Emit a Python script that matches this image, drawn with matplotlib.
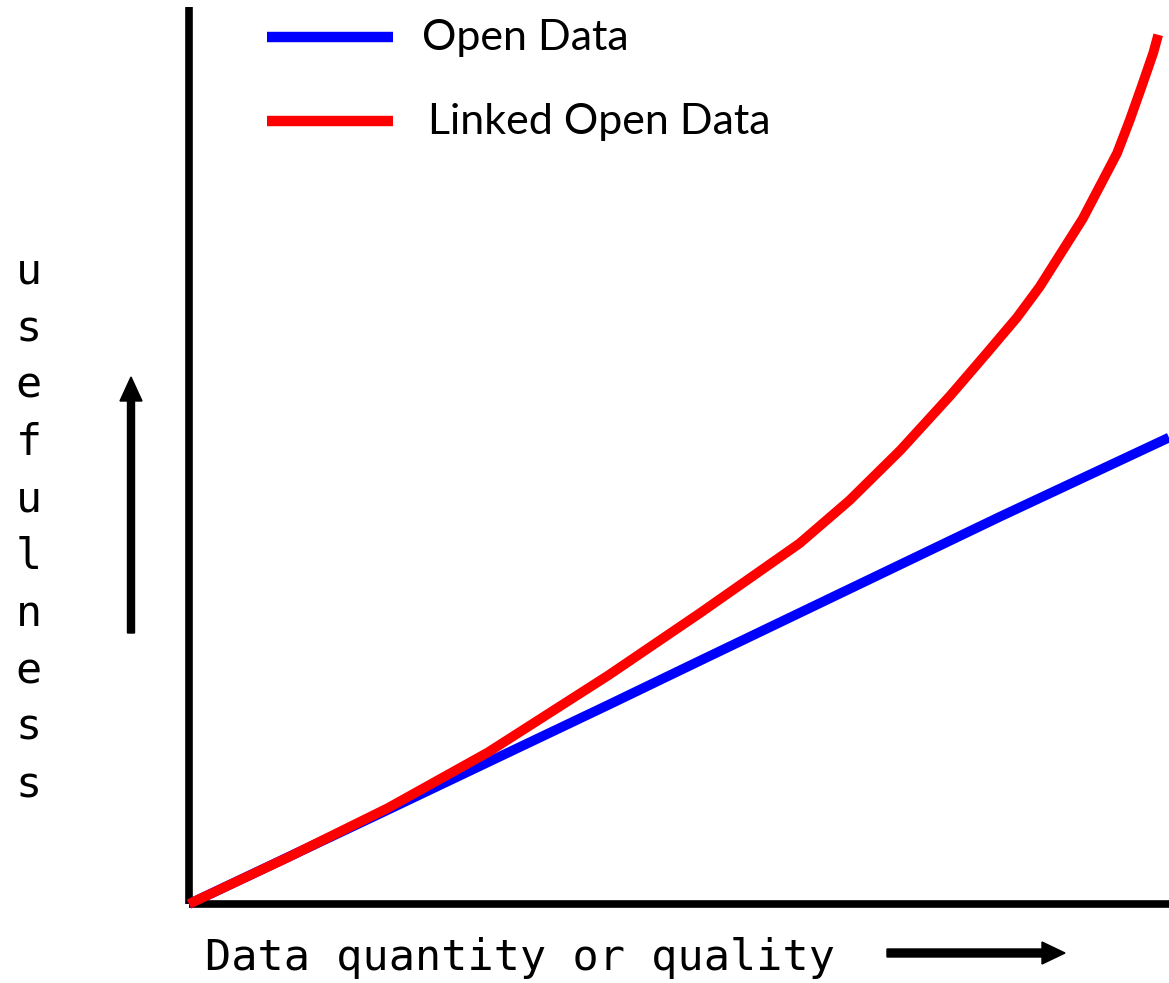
import matplotlib
matplotlib.use("Agg")
import matplotlib.pyplot as plt
from matplotlib.lines import Line2D
from matplotlib.patches import FancyArrow

# Data (arbitrary units, 0..10 on both axes)
open_x = [0.0, 2.03, 4.28, 5.21, 8.28, 10.0]
open_y = [0.0, 1.05, 2.22, 2.71, 4.32, 5.20]

lod_x = [0.0, 1.01, 2.03, 3.05, 4.28, 5.21, 6.23, 6.74, 7.26, 7.77, 8.14, 8.45,
         8.68, 9.12, 9.47, 9.60, 9.72, 9.84, 9.89]
lod_y = [0.0, 0.52, 1.07, 1.69, 2.55, 3.24, 4.02, 4.50, 5.06, 5.67, 6.14, 6.54,
         6.88, 7.64, 8.37, 8.74, 9.11, 9.49, 9.69]

series_labels = ["Open Data", "Linked Open Data"]
series_colors = ["#0000ff", "#ff0000"]
x_label = "Data quantity or quality"
y_label = "usefulness"

W, H = 1169, 983
fig = plt.figure(figsize=(W / 100, H / 100), dpi=100)
fig.patch.set_facecolor("white")

ax = fig.add_axes([189 / W, (H - 904) / H, 980 / W, 897 / H])
ax.set_xlim(0, 10)
ax.set_ylim(0, 10)
ax.set_xticks([])
ax.set_yticks([])
for s in ["top", "right"]:
    ax.spines[s].set_visible(False)
for s in ["left", "bottom"]:
    ax.spines[s].set_linewidth(5.5)
    ax.spines[s].set_color("black")
    ax.spines[s].set_capstyle("butt")

ax.plot(open_x, open_y, color=series_colors[0], lw=7, solid_capstyle="butt",
        solid_joinstyle="round", clip_on=False, zorder=3)
ax.plot(lod_x, lod_y, color=series_colors[1], lw=7, solid_capstyle="butt",
        solid_joinstyle="round", clip_on=False, zorder=4)

# Manual legend
for lab, col, ypx, xt in zip(series_labels, series_colors, [37, 121], [422, 428]):
    fig.add_artist(Line2D([267 / W, 393 / W], [(H - ypx) / H, (H - ypx) / H],
                          color=col, lw=7.5, solid_capstyle="butt", transform=fig.transFigure))
    fig.text(xt / W, (H - ypx - 1) / H, lab, fontsize=31, family="Lato",
             ha="left", va="center", color="black")

# Axis labels (monospace)
fig.text(205 / W, (H - 958) / H, x_label, fontsize=31.3, family="DejaVu Sans Mono",
         ha="left", va="center", color="black")
for i, ch in enumerate(y_label):
    fig.text(29 / W, (H - (272 + 57 * i)) / H, ch, fontsize=31.3, family="DejaVu Sans Mono",
             ha="center", va="center", color="black")

# Arrows
fig.add_artist(FancyArrow(1.31, (H - 633) / 100, 0, 2.56, width=0.07, head_width=0.22,
                          head_length=0.24, length_includes_head=True, color="black",
                          transform=fig.dpi_scale_trans))
fig.add_artist(FancyArrow(8.87, (H - 953) / 100, 1.78, 0, width=0.08, head_width=0.22,
                          head_length=0.23, length_includes_head=True, color="black",
                          transform=fig.dpi_scale_trans))

fig.savefig("out.png", dpi=100, facecolor="white")
